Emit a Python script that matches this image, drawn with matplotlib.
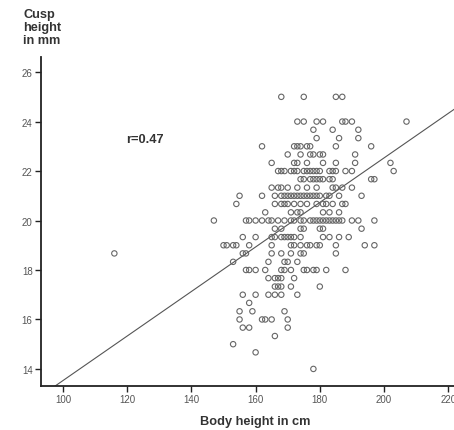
import numpy as np
import matplotlib
matplotlib.use("Agg")
import matplotlib.pyplot as plt

plt.rcParams['font.family'] = ['Liberation Sans', 'DejaVu Sans']

# body height (cm) of each point, grouped by cusp height row (mm)
rows = {
    25.0: [168, 175, 185, 187],
    24.0: [173, 175, 179, 181, 187, 188, 190, 207],
    23.67: [178, 184, 192],
    23.33: [179, 186, 192],
    23.0: [162, 172, 173, 174, 176, 177, 185, 196],
    22.67: [170, 174, 177, 178, 180, 181, 191],
    22.33: [165, 172, 173, 176, 181, 185, 191, 202],
    22.0: [167, 168, 169, 171, 172, 173, 175, 176, 177, 178, 179, 180, 183,
           184, 185, 188, 190, 203],
    21.67: [174, 175, 177, 178, 179, 180, 181, 183, 184, 196, 197],
    21.33: [165, 167, 168, 170, 173, 176, 179, 184, 185, 187, 190],
    21.0: [155, 162, 166, 168, 169, 170, 171, 172, 173, 174, 175, 176, 177,
           178, 179, 180, 182, 183, 186, 193],
    20.67: [154, 166, 168, 169, 170, 172, 174, 176, 179, 181, 182, 184, 187, 188],
    20.33: [163, 171, 173, 174, 181, 183, 186],
    20.0: [147, 157, 158, 160, 162, 164, 165, 167, 169, 171, 172, 174, 175,
           177, 178, 179, 180, 181, 182, 183, 184, 185, 186, 187, 190, 192, 197],
    19.67: [166, 168, 174, 175, 180, 181, 193],
    19.33: [156, 160, 165, 166, 168, 169, 170, 171, 172, 174, 181, 183, 186, 189],
    19.0: [150, 151, 153, 154, 158, 165, 171, 172, 174, 176, 177, 179, 180,
           185, 194, 197],
    18.67: [116, 156, 157, 165, 168, 171, 174, 175, 185],
    18.33: [153, 164, 169, 170, 173],
    18.0: [157, 158, 160, 163, 168, 169, 171, 175, 176, 178, 179, 182, 188],
    17.67: [164, 166, 167, 168, 172],
    17.33: [166, 167, 168, 171, 180],
    17.0: [156, 160, 164, 166, 168, 173],
    16.67: [158],
    16.33: [155, 159, 169],
    16.0: [155, 162, 163, 165, 170],
    15.67: [156, 158, 170],
    15.33: [166],
    15.0: [153],
    14.67: [160],
    14.0: [178],
}

body_height = []
cusp_height = []
for mm, cms in rows.items():
    for cm in cms:
        body_height.append(cm)
        cusp_height.append(mm)

# fit line
slope = 0.090
intercept = 4.53
r_text = "r=0.47"

fig = plt.figure(figsize=(4.54, 4.31), dpi=100)
ax = fig.add_axes([0.0903, 0.1021, 0.9097, 0.7633])

ax.scatter(body_height, cusp_height, s=15, facecolors='none',
           edgecolors='#666666', linewidths=0.8, zorder=3)

xl = np.array([93.15, 221.8])
ax.plot(xl, slope * xl + intercept, color='#555555', linewidth=0.8, zorder=2)

ax.set_xlim(93.15, 221.8)
ax.set_ylim(13.31, 26.61)
ax.set_xticks([100, 120, 140, 160, 180, 200, 220])
ax.set_yticks([14, 16, 18, 20, 22, 24, 26])

for s in ['top', 'right']:
    ax.spines[s].set_visible(False)
for s in ['left', 'bottom']:
    ax.spines[s].set_linewidth(1.3)
    ax.spines[s].set_color('#222222')

ax.tick_params(direction='out', length=4, width=1, colors='#222222',
               labelsize=7, labelcolor='#555555', pad=2)

ax.text(119.6, 23.3, r_text, fontsize=9.3, fontweight='bold',
        color='#333333', va='center', ha='left')

fig.text(23 / 454, 1 - 9 / 431, "Cusp\nheight\nin mm", fontsize=9.2,
         fontweight='bold', color='#333333', ha='left', va='top',
         linespacing=1.1)
fig.text(255 / 454, 1 - 422 / 431, "Body height in cm", fontsize=9.2,
         fontweight='bold', color='#333333', ha='center', va='center')

fig.savefig('out.png', dpi=100)
